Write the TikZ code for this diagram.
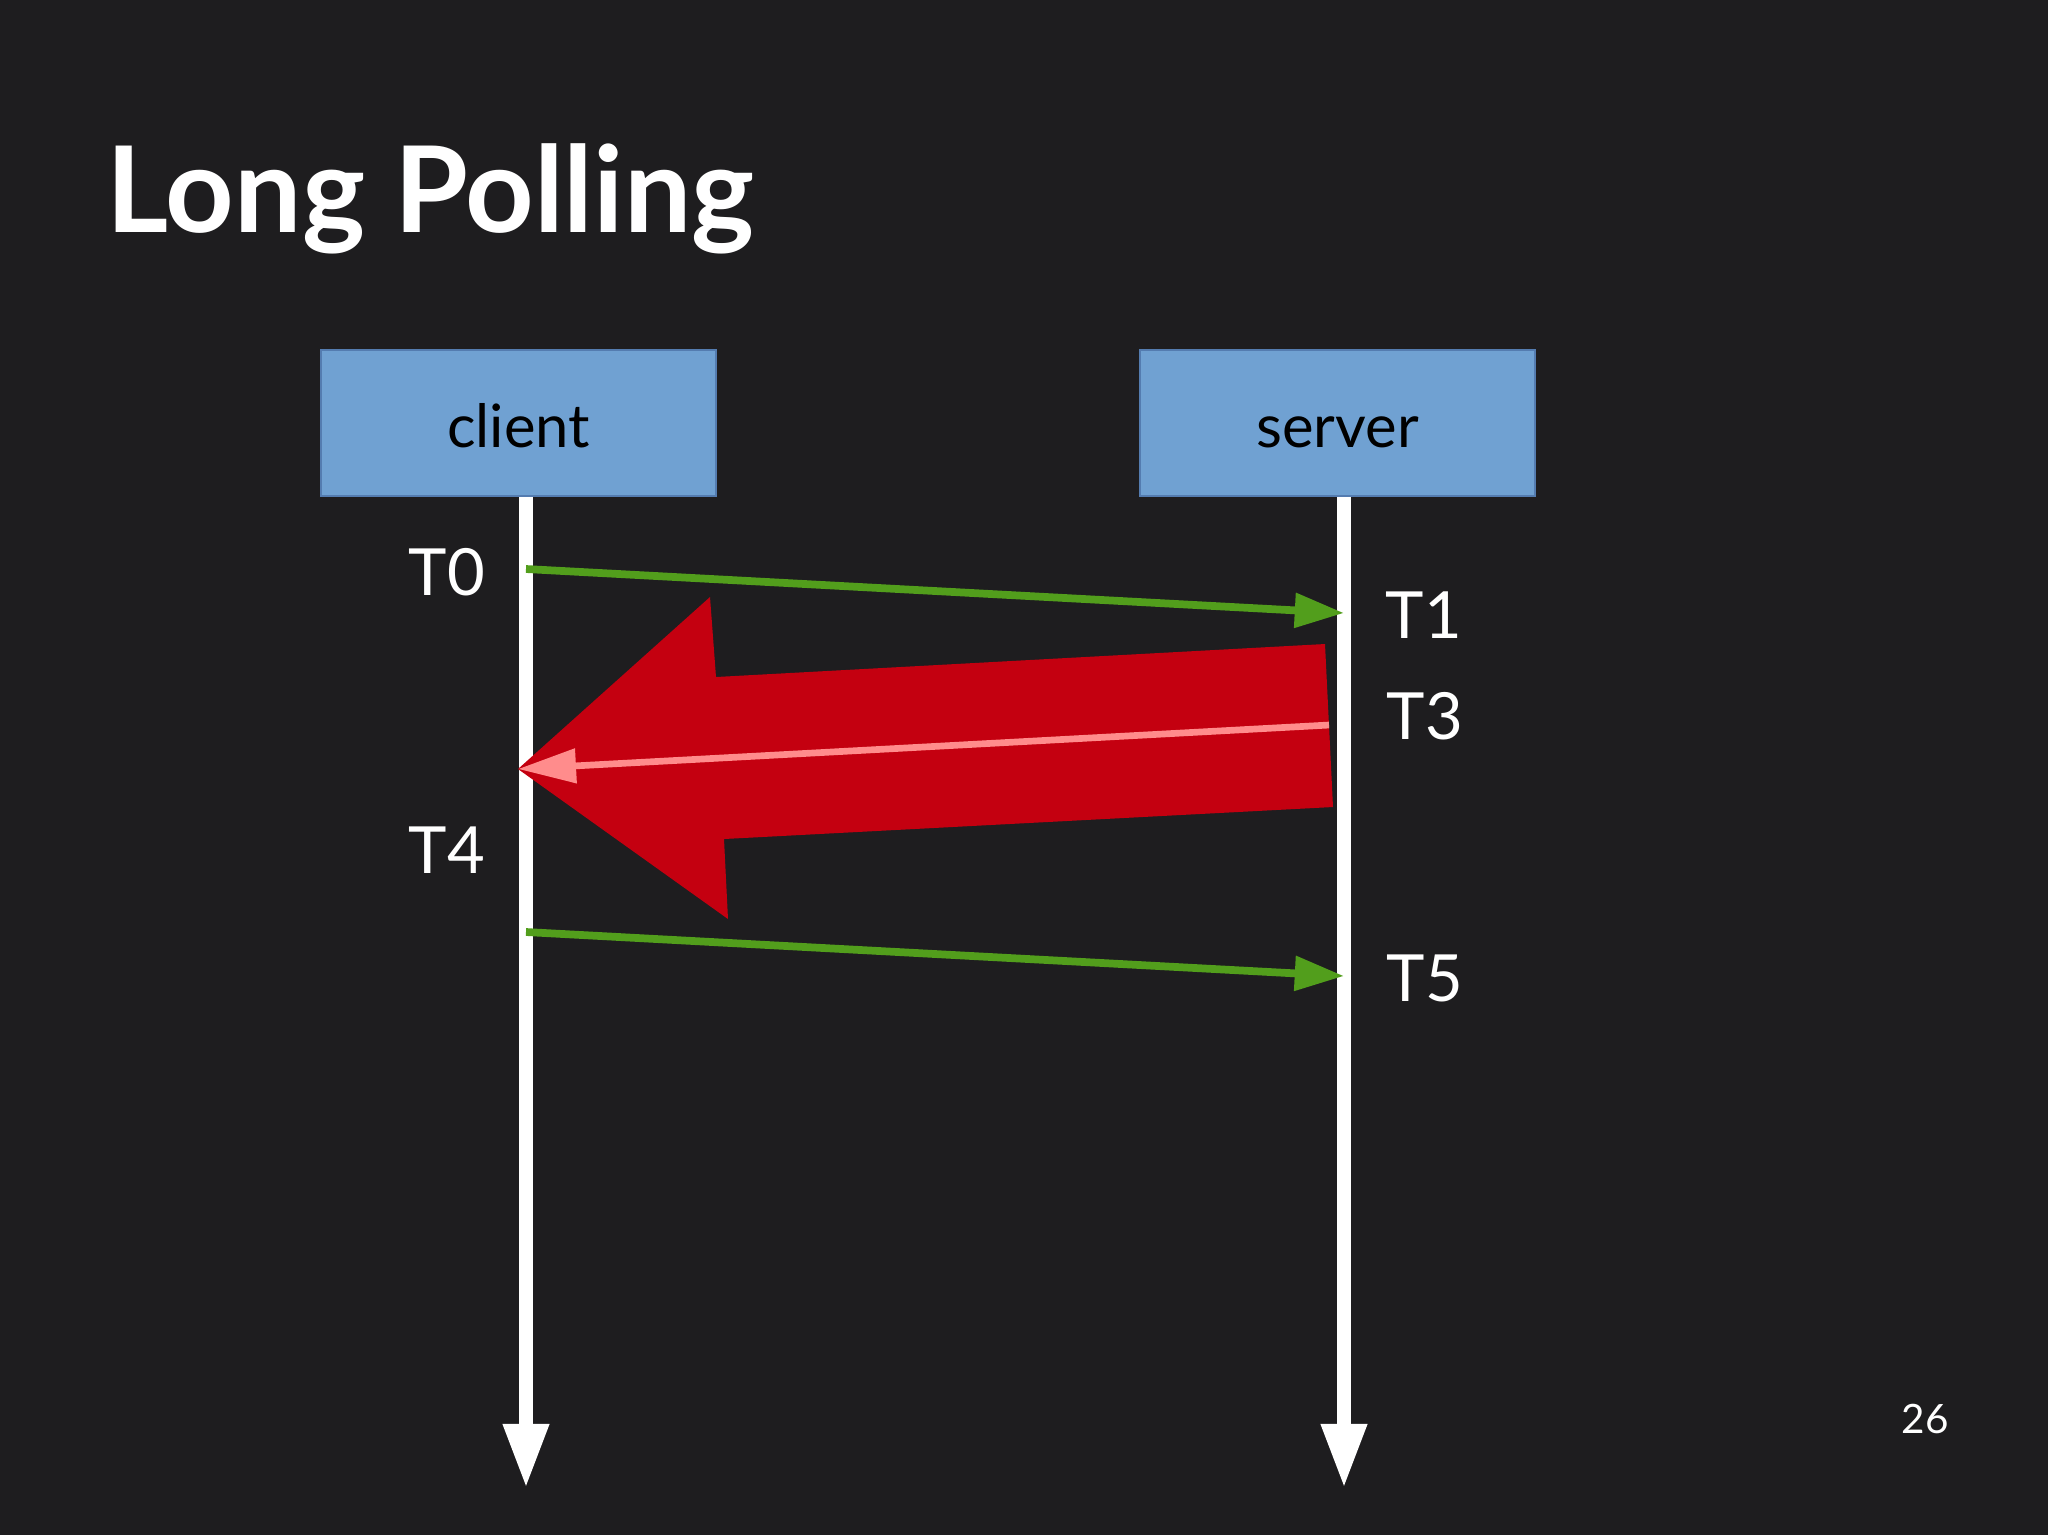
\documentclass[tikz,border=0pt]{standalone}
\usepackage{fontspec}
\setmainfont{Lato}
\usetikzlibrary{arrows.meta}
\definecolor{slidebg}{RGB}{30,29,31}
\definecolor{actorfill}{RGB}{112,161,210}
\definecolor{actorline}{RGB}{84,124,176}
\definecolor{reqgreen}{RGB}{82,158,28}
\definecolor{pushred}{RGB}{196,0,16}
\definecolor{replypink}{RGB}{255,140,140}
\begin{document}
\begin{tikzpicture}[x=0.01cm, y=-0.01cm,
  actor/.style={draw=actorline, fill=actorfill, line width=0.5pt,
    minimum width=3.95cm, minimum height=1.46cm, inner sep=0pt,
    text height=15pt, text depth=0.8pt,
    font=\fontsize{17}{20}\selectfont, text=black},
  lifeline/.style={white, line width=4.2pt,
    -{Triangle[length=18.5pt, width=12pt]}},
  request/.style={reqgreen, line width=2.2pt,
    -{Triangle[length=14pt, width=9.5pt]}},
  reply/.style={replypink, line width=1.9pt,
    -{Triangle[length=16.5pt, width=9.5pt]}},
  stamp/.style={text=white, font=\fontsize{18.5}{22}\selectfont}]
\fill[slidebg] (0,0) rectangle (2048,1535);
\useasboundingbox (0,0) rectangle (2048,1535);
\node[anchor=base west, text=white, inner sep=0pt,
  font=\fontsize{34}{40}\selectfont\bfseries] (title) at (106,232) {Long Polling};
\node[actor] (client) at (518.5,423) {client};
\node[actor] (server) at (1337.5,423) {server};
\coordinate (cend) at (526,1489);
\coordinate (send) at (1344,1489);
\draw[lifeline] (client.south -| cend) -- (cend);
\draw[lifeline] (server.south -| send) -- (send);
\coordinate (req1a) at (526,569);
\coordinate (req1b) at (1344,613);
\coordinate (resa) at (1329,725);
\coordinate (resb) at (518,769);
\coordinate (req2a) at (526,932);
\coordinate (req2b) at (1344,976);
\fill[pushred] (resb) -- (710,597) -- (716,677) -- (1325,644)
  -- (1333,807) -- (724,839) -- (728,919) -- cycle;
\draw[reply] (resa) -- (resb);
\draw[request] (req1a) -- (req1b);
\draw[request] (req2a) -- (req2b);
\foreach \n/\x/\y in {T0/447/572, T1/1424/615, T3/1425/716,
  T4/447/850, T5/1425/978}
  \node[stamp] (\n) at (\x,\y) {\n};
\node[text=white, font=\fontsize{11.5}{14}\selectfont, anchor=base]
  (page) at (1925,1433) {26};
\end{tikzpicture}
\end{document}
